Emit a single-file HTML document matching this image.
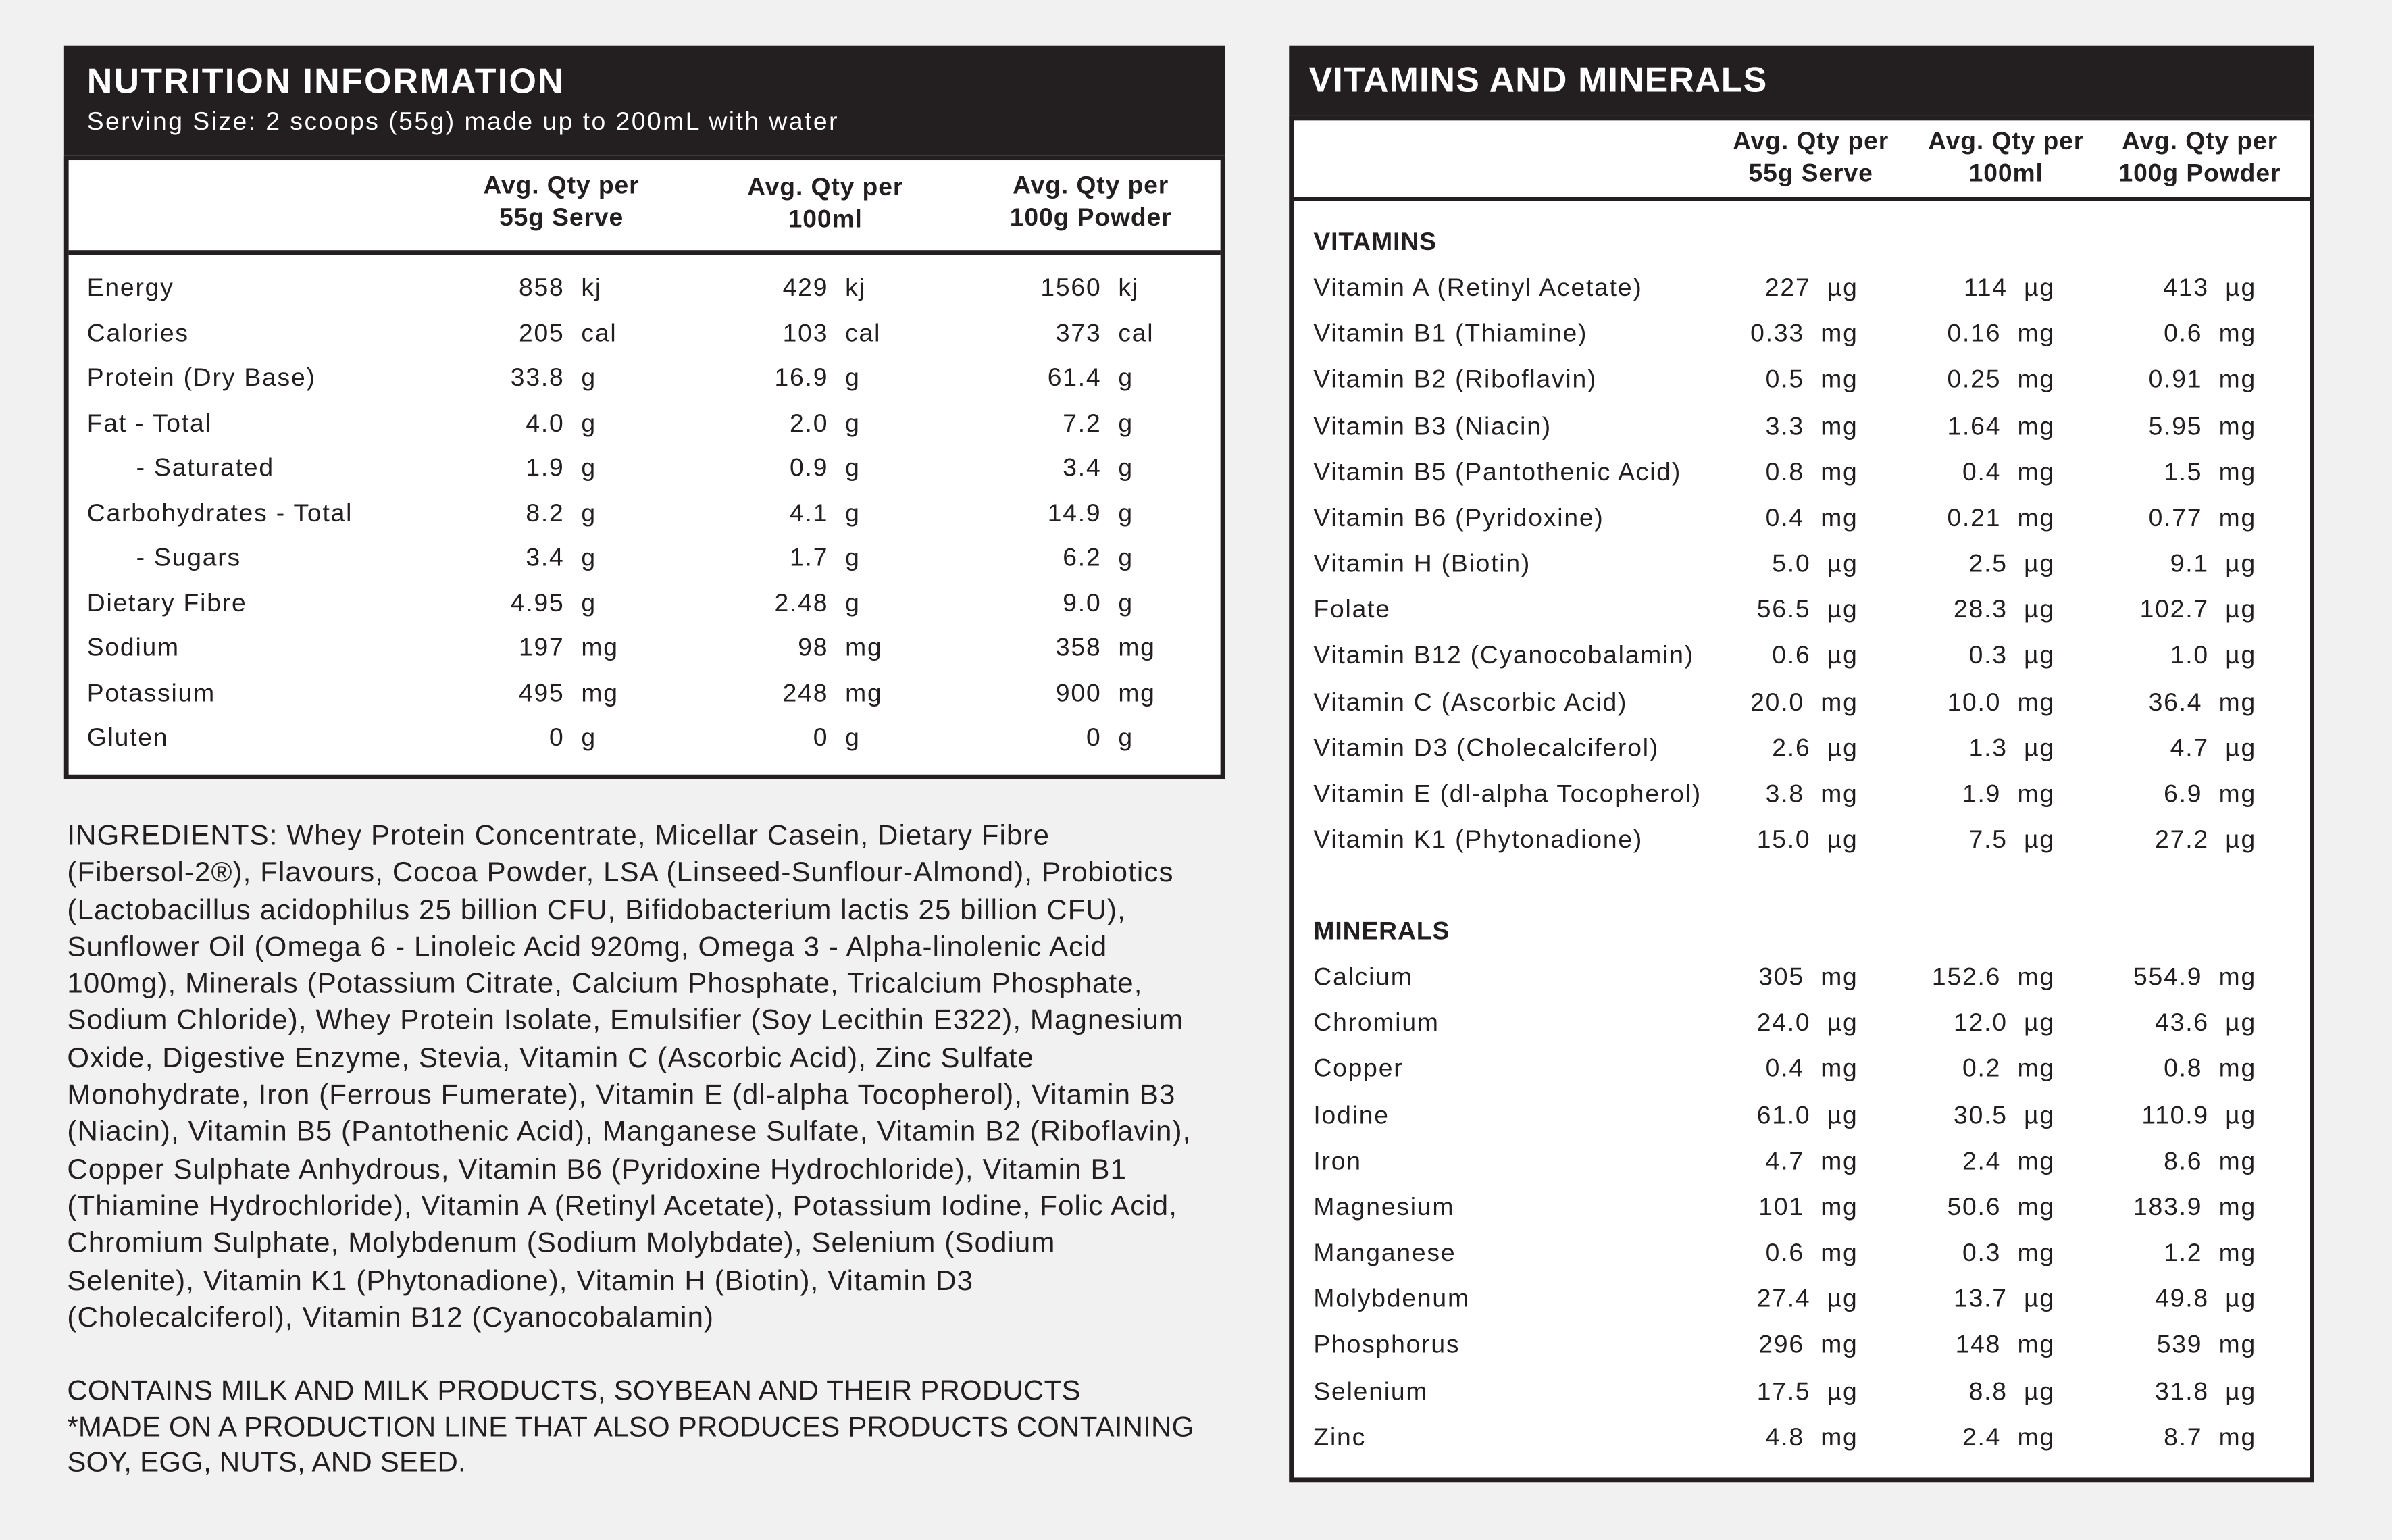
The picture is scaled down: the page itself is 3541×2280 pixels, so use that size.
<!DOCTYPE html>
<html><head><meta charset="utf-8"><style>
html,body{margin:0;padding:0;background:#f1f1f1;}
#w{position:absolute;left:0;top:0;width:1568px;height:1010px;transform:scale(2.2583,2.2574);transform-origin:0 0;font-family:"Liberation Sans",sans-serif;color:#231f20;}
.t{position:absolute;white-space:nowrap;line-height:20px;font-size:16.5px;letter-spacing:0.8px;}
.r{transform:translateX(-100%);}
.c{transform:translateX(-50%);text-align:center;}
.h{font-weight:bold;font-size:16.5px;line-height:21px;letter-spacing:0.4px;}
.dark{position:absolute;background:#231f20;}
.box{position:absolute;background:#fff;border:3.5px solid #231f20;box-sizing:border-box;}
.ing{position:absolute;left:44px;top:536px;font-size:18.6px;line-height:24.3px;color:#231f20;white-space:nowrap;letter-spacing:0.5px;}
</style></head><body><div id="w">
<div class="dark" style="left:42px;top:30px;width:761px;height:481px"></div>
<div class="box" style="left:42px;top:102px;width:761px;height:409px"></div>
<div class="dark" style="left:45px;top:164px;width:755px;height:3px"></div>
<div class="t" style="left:57px;top:40px;color:#fff;font-weight:bold;font-size:23px;line-height:26px;letter-spacing:1px">NUTRITION INFORMATION</div>
<div class="t" style="left:57px;top:70px;color:#fff;font-size:16.5px;letter-spacing:1.1px">Serving Size: 2 scoops (55g) made up to 200mL with water</div>
<div class="t c h" style="left:368px;top:112px">Avg. Qty per<br>55g Serve</div>
<div class="t c h" style="left:541px;top:113px">Avg. Qty per<br>100ml</div>
<div class="t c h" style="left:715px;top:112px">Avg. Qty per<br>100g Powder</div>
<div id="L"></div>
<div class="ing">INGREDIENTS: Whey Protein Concentrate, Micellar Casein, Dietary Fibre<br>(Fibersol-2®), Flavours, Cocoa Powder, LSA (Linseed-Sunflour-Almond), Probiotics<br>(Lactobacillus acidophilus 25 billion CFU, Bifidobacterium lactis 25 billion CFU),<br>Sunflower Oil (Omega 6 - Linoleic Acid 920mg, Omega 3 - Alpha-linolenic Acid<br>100mg), Minerals (Potassium Citrate, Calcium Phosphate, Tricalcium Phosphate,<br>Sodium Chloride), Whey Protein Isolate, Emulsifier (Soy Lecithin E322), Magnesium<br>Oxide, Digestive Enzyme, Stevia, Vitamin C (Ascorbic Acid), Zinc Sulfate<br>Monohydrate, Iron (Ferrous Fumerate), Vitamin E (dl-alpha Tocopherol), Vitamin B3<br>(Niacin), Vitamin B5 (Pantothenic Acid), Manganese Sulfate, Vitamin B2 (Riboflavin),<br>Copper Sulphate Anhydrous, Vitamin B6 (Pyridoxine Hydrochloride), Vitamin B1<br>(Thiamine Hydrochloride), Vitamin A (Retinyl Acetate), Potassium Iodine, Folic Acid,<br>Chromium Sulphate, Molybdenum (Sodium Molybdate), Selenium (Sodium<br>Selenite), Vitamin K1 (Phytonadione), Vitamin H (Biotin), Vitamin D3<br>(Cholecalciferol), Vitamin B12 (Cyanocobalamin)</div>
<div class="ing" style="top:900px;line-height:23.6px;letter-spacing:0.1px">CONTAINS MILK AND MILK PRODUCTS, SOYBEAN AND THEIR PRODUCTS<br>*MADE ON A PRODUCTION LINE THAT ALSO PRODUCES PRODUCTS CONTAINING<br>SOY, EGG, NUTS, AND SEED.</div>

<div class="dark" style="left:845px;top:30px;width:672px;height:942px"></div>
<div class="box" style="left:845px;top:76px;width:672px;height:896px"></div>
<div class="dark" style="left:848px;top:129px;width:666px;height:3px"></div>
<div class="t" style="left:858px;top:39px;color:#fff;font-weight:bold;font-size:23px;line-height:26px;letter-spacing:0.5px">VITAMINS AND MINERALS</div>
<div class="t c h" style="left:1187px;top:83px">Avg. Qty per<br>55g Serve</div>
<div class="t c h" style="left:1315px;top:83px">Avg. Qty per<br>100ml</div>
<div class="t c h" style="left:1442px;top:83px">Avg. Qty per<br>100g Powder</div>
<div class="t h" style="left:861px;top:149px">VITAMINS</div>
<div class="t h" style="left:861px;top:601px">MINERALS</div>
<div id="R"></div>
</div>
<script>
var L=[["Energy","858","kj","429","kj","1560","kj"],["Calories","205","cal","103","cal","373","cal"],["Protein (Dry Base)","33.8","g","16.9","g","61.4","g"],["Fat - Total","4.0","g","2.0","g","7.2","g"],["&nbsp;&nbsp;&nbsp;&nbsp;&nbsp;&nbsp;- Saturated","1.9","g","0.9","g","3.4","g"],["Carbohydrates - Total","8.2","g","4.1","g","14.9","g"],["&nbsp;&nbsp;&nbsp;&nbsp;&nbsp;&nbsp;- Sugars","3.4","g","1.7","g","6.2","g"],["Dietary Fibre","4.95","g","2.48","g","9.0","g"],["Sodium","197","mg","98","mg","358","mg"],["Potassium","495","mg","248","mg","900","mg"],["Gluten","0","g","0","g","0","g"]];
var h="";L.forEach(function(r,i){var y=189+i*29.5-10;
h+='<div class="t" style="left:57px;top:'+y+'px">'+r[0]+'</div>';
[[370,381],[543,554],[722,733]].forEach(function(p,j){h+='<div class="t r" style="left:'+p[0]+'px;top:'+y+'px">'+r[1+2*j]+'</div><div class="t" style="left:'+p[1]+'px;top:'+y+'px">'+r[2+2*j]+'</div>';});});
document.getElementById("L").outerHTML=h;
var V=[["Vitamin A (Retinyl Acetate)","227 µg","114 µg","413 µg"],["Vitamin B1 (Thiamine)","0.33 mg","0.16 mg","0.6 mg"],["Vitamin B2 (Riboflavin)","0.5 mg","0.25 mg","0.91 mg"],["Vitamin B3 (Niacin)","3.3 mg","1.64 mg","5.95 mg"],["Vitamin B5 (Pantothenic Acid)","0.8 mg","0.4 mg","1.5 mg"],["Vitamin B6 (Pyridoxine)","0.4 mg","0.21 mg","0.77 mg"],["Vitamin H (Biotin)","5.0 µg","2.5 µg","9.1 µg"],["Folate","56.5 µg","28.3 µg","102.7 µg"],["Vitamin B12 (Cyanocobalamin)","0.6 µg","0.3 µg","1.0 µg"],["Vitamin C (Ascorbic Acid)","20.0 mg","10.0 mg","36.4 mg"],["Vitamin D3 (Cholecalciferol)","2.6 µg","1.3 µg","4.7 µg"],["Vitamin E (dl-alpha Tocopherol)","3.8 mg","1.9 mg","6.9 mg"],["Vitamin K1 (Phytonadione)","15.0 µg","7.5 µg","27.2 µg"]];
var M=[["Calcium","305 mg","152.6 mg","554.9 mg"],["Chromium","24.0 µg","12.0 µg","43.6 µg"],["Copper","0.4 mg","0.2 mg","0.8 mg"],["Iodine","61.0 µg","30.5 µg","110.9 µg"],["Iron","4.7 mg","2.4 mg","8.6 mg"],["Magnesium","101 mg","50.6 mg","183.9 mg"],["Manganese","0.6 mg","0.3 mg","1.2 mg"],["Molybdenum","27.4 µg","13.7 µg","49.8 µg"],["Phosphorus","296 mg","148 mg","539 mg"],["Selenium","17.5 µg","8.8 µg","31.8 µg"],["Zinc","4.8 mg","2.4 mg","8.7 mg"]];
h="";function rows(A,y0){A.forEach(function(r,i){var y=y0+i*30.17-10;
h+='<div class="t" style="left:861px;top:'+y+'px">'+r[0]+'</div>';
[1218,1347,1479].forEach(function(x,j){var p=r[1+j].split(" ");h+='<div class="t r" style="left:'+x+'px;top:'+y+'px">'+p[0]+'&nbsp;&nbsp;'+p[1]+'</div>';});});}
rows(V,189);rows(M,641);
document.getElementById("R").outerHTML=h;
</script>
</body></html>
